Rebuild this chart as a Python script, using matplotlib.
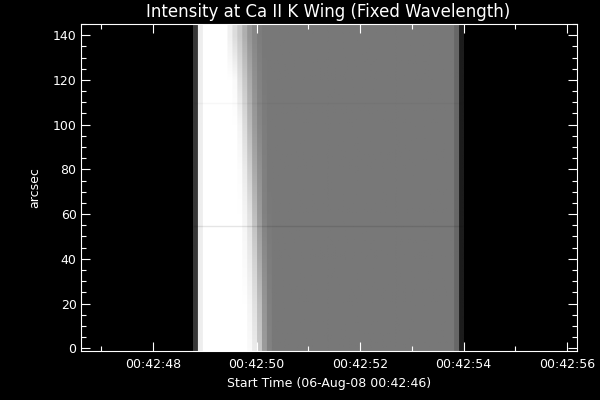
import numpy as np
import matplotlib
matplotlib.use('Agg')
import matplotlib.pyplot as plt
from matplotlib.ticker import FuncFormatter, MultipleLocator

# Time axis: seconds after the start time 00:42:46
start_label = '06-Aug-08 00:42:46'
start_sec = 46
t_first = 2.774      # first exposure (s after start)
t_last = 7.996       # end of last exposure
x_range = [0.60, 10.18]
y_range = [-1.2, 145.0]

# Per-column intensity (0-255) for the 54 exposures, columns that do not change with y
left_cols = [55, 238, 255, 255, 255, 255, 255]
right_cols = [120] * 37 + [103, 28]

# Transition columns 7..15, sampled at these heights (arcsec)
row_y = [0, 20, 40, 60, 80, 100, 120, 140]
transition = [
    [255, 255, 255, 255, 250, 235, 200, 155, 130],
    [255, 255, 255, 255, 245, 225, 190, 150, 128],
    [255, 255, 255, 250, 235, 210, 170, 140, 125],
    [255, 255, 255, 245, 225, 190, 155, 130, 122],
    [255, 255, 252, 235, 205, 170, 145, 128, 120],
    [255, 255, 245, 220, 185, 155, 135, 125, 120],
    [255, 250, 225, 200, 170, 145, 130, 122, 120],
    [240, 220, 200, 175, 150, 135, 125, 120, 120],
]

# faint horizontal streaks in the slit data
streak_y = [54.8, 109.6]
streak_alpha = [0.10, 0.03]

# build the image
img = np.array([left_cols + row + right_cols for row in transition], dtype=float)
img = np.repeat(img, 5, axis=1)  # keep sharp column edges under bilinear smoothing
dy = row_y[1] - row_y[0]

fig = plt.figure(figsize=(6, 4), dpi=100, facecolor='black')
ax = fig.add_axes([80.7 / 600, 1 - 351 / 400, (576.5 - 80.7) / 600, (351 - 24) / 400])
ax.set_facecolor('black')

ax.imshow(img, cmap='gray', vmin=0, vmax=255, origin='lower', aspect='auto',
          interpolation='bilinear',
          extent=[t_first, t_last, row_y[0] - dy / 2, row_y[-1] + dy / 2])
for y, a in zip(streak_y, streak_alpha):
    ax.hlines(y, t_first, t_last, color='black', alpha=a, linewidth=1)

ax.set_xlim(x_range)
ax.set_ylim(y_range)

ax.xaxis.set_major_locator(MultipleLocator(2))
ax.xaxis.set_minor_locator(MultipleLocator(1))
ax.yaxis.set_major_locator(MultipleLocator(20))
ax.yaxis.set_minor_locator(MultipleLocator(5))
ax.xaxis.set_major_formatter(FuncFormatter(lambda v, p: '00:42:%02d' % round(start_sec + v)))

ax.tick_params(which='both', direction='in', colors='white', top=True, right=True,
               labelsize=9, width=0.8)
ax.tick_params(which='major', length=6.5)
ax.tick_params(which='minor', length=3.6)
ax.tick_params(axis='x', pad=5)
ax.tick_params(axis='y', pad=3)
for s in ax.spines.values():
    s.set_color('white')
    s.set_linewidth(0.8)

ax.set_title('Intensity at Ca II K Wing (Fixed Wavelength)', color='white', fontsize=12, pad=5)
ax.set_xlabel('Start Time (%s)' % start_label, color='white', fontsize=9, labelpad=4)
ax.set_ylabel('arcsec', color='white', fontsize=9, labelpad=8)

fig.savefig('out.png', dpi=100, facecolor='black')
